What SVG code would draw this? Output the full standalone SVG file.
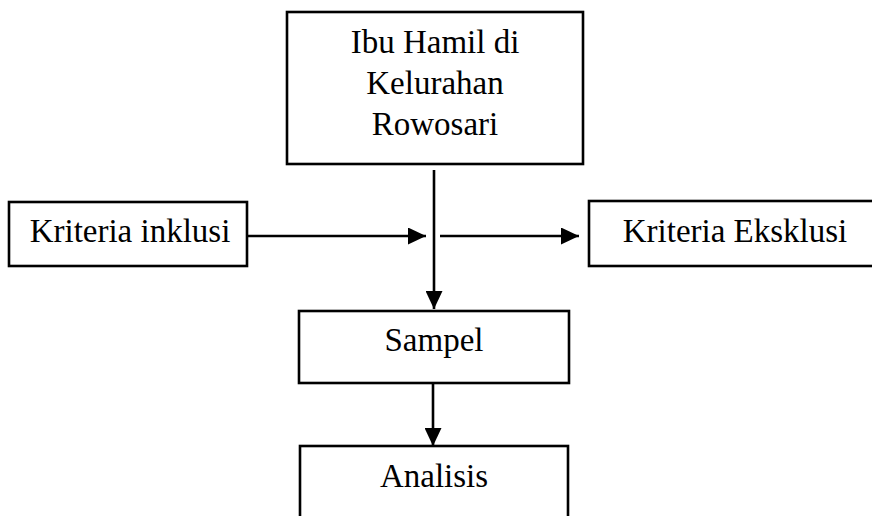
<svg xmlns="http://www.w3.org/2000/svg" width="872" height="516" viewBox="0 0 872 516">
<defs>
<marker id="ah" markerUnits="userSpaceOnUse" markerWidth="18" markerHeight="17" refX="18" refY="8.5" orient="auto">
<path d="M0,0 L18,8.5 L0,17 z" fill="#000"/>
</marker>
</defs>
<style>
.box{fill:#fff;stroke:#000;stroke-width:2.6}
.t{font-family:"Liberation Serif","Times New Roman",serif;font-size:33px;fill:#000;text-anchor:middle}
.c{stroke:#000;stroke-width:2.6;fill:none}
</style>
<rect width="872" height="516" fill="#fff"/>
<g id="connectors">
<line class="c" x1="434" y1="170" x2="434" y2="309" marker-end="url(#ah)"/>
<line class="c" x1="247" y1="236" x2="426" y2="236" marker-end="url(#ah)"/>
<line class="c" x1="440" y1="236" x2="579" y2="236" marker-end="url(#ah)"/>
<line class="c" x1="433" y1="383" x2="433" y2="446" marker-end="url(#ah)"/>
</g>
<g id="node-ibu">
<rect class="box" x="287" y="12" width="296" height="152"/>
<text class="t" x="435" y="53">Ibu Hamil di</text>
<text class="t" x="435" y="94">Kelurahan</text>
<text class="t" x="435" y="135">Rowosari</text>
</g>
<g id="node-inklusi">
<rect class="box" x="9" y="202" width="238" height="64"/>
<text class="t" x="130" y="242">Kriteria inklusi</text>
</g>
<g id="node-eksklusi">
<rect class="box" x="589" y="201" width="292" height="65"/>
<text class="t" x="735" y="242">Kriteria Eksklusi</text>
</g>
<g id="node-sampel">
<rect class="box" x="299" y="311" width="270" height="72"/>
<text class="t" x="434" y="351">Sampel</text>
</g>
<g id="node-analisis">
<rect class="box" x="300" y="446" width="268" height="90"/>
<text class="t" x="434" y="487">Analisis</text>
</g>
</svg>
